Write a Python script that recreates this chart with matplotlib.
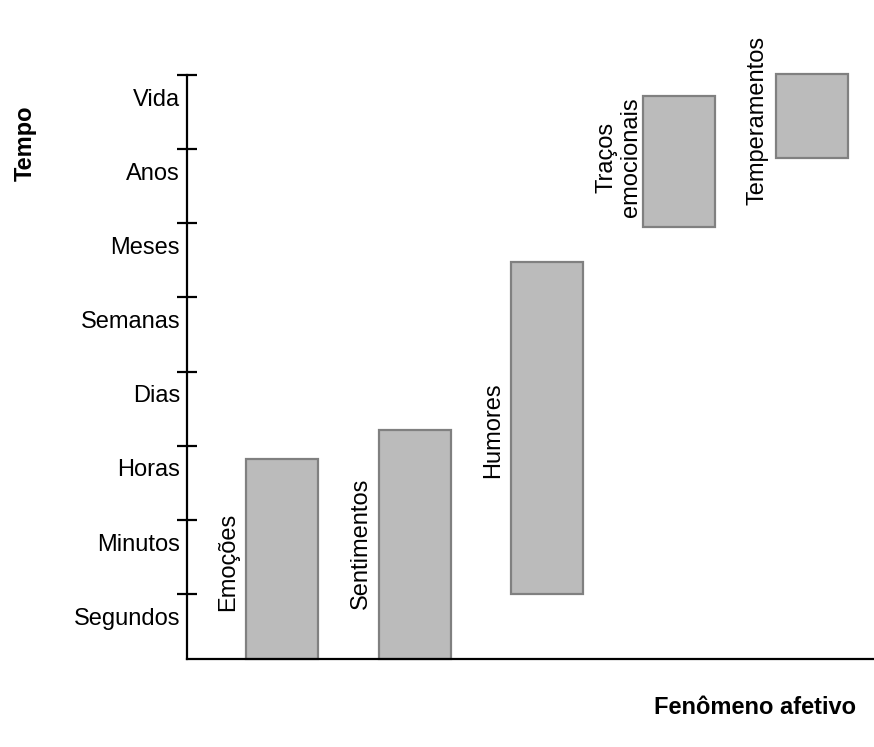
import matplotlib

matplotlib.use("Agg")
import matplotlib.pyplot as plt
import numpy as np

plt.rcParams["font.family"] = ["Liberation Sans", "DejaVu Sans"]

# time scale, bottom to top
time_levels = ["Segundos", "Minutos", "Horas", "Dias", "Semanas", "Meses", "Anos", "Vida"]

# affective phenomena and their span on the time scale (level units)
phenomena = ["Emoções", "Sentimentos", "Humores", "Traços\nemocionais", "Temperamentos"]
span_start = [0.12, 0.12, 1.00, 5.95, 6.88]
span_end = [2.82, 3.21, 5.48, 7.72, 8.01]

# vertical centre of each rotated label
label_y = [1.43, 1.69, 3.21, 6.89, 7.39]

fig = plt.figure(figsize=(8.74, 7.47), dpi=100)
ax = fig.add_axes([187 / 874, 88 / 747, 687 / 874, 585 / 747])

x = np.arange(1, len(phenomena) + 1)
starts = np.array(span_start)
ends = np.array(span_end)
ax.bar(
    x,
    ends - starts,
    bottom=starts,
    width=0.545,
    color="#bbbbbb",
    edgecolor="#808080",
    linewidth=1.6,
    zorder=1,
    clip_on=False,
)
for xi, name, ly in zip(x, phenomena, label_y):
    dx = 0.455 if "\n" in name else 0.41
    ax.text(
        xi - dx,
        ly,
        name,
        rotation=90,
        ha="center",
        va="center",
        multialignment="center",
        fontsize=17,
        linespacing=1.15,
    )

ax.set_xlim(0.28, 5.47)
ax.set_ylim(0.123, 8.014)

for side in ("top", "right"):
    ax.spines[side].set_visible(False)
ax.spines["left"].set_bounds(0.123, 8.0)
ax.spines["left"].set_linewidth(1.6)
ax.spines["bottom"].set_linewidth(1.6)

ax.set_xticks([])
ax.set_yticks(np.arange(1, len(time_levels) + 1))
ax.set_yticklabels([])
ax.tick_params(axis="y", which="major", direction="inout", length=15, width=1.6)
ax.set_yticks(np.arange(len(time_levels)) + 0.7, minor=True)
ax.set_yticklabels(time_levels, minor=True, fontsize=17)
ax.tick_params(axis="y", which="minor", length=0, pad=5)

fig.text(25 / 874, 1 - 143 / 747, "Tempo", rotation=90, ha="center", va="center",
         fontsize=17, fontweight="bold")
fig.text(755 / 874, 1 - 707 / 747, "Fenômeno afetivo", ha="center", va="center",
         fontsize=17, fontweight="bold")

fig.savefig("out.png", dpi=100)
plt.close(fig)
